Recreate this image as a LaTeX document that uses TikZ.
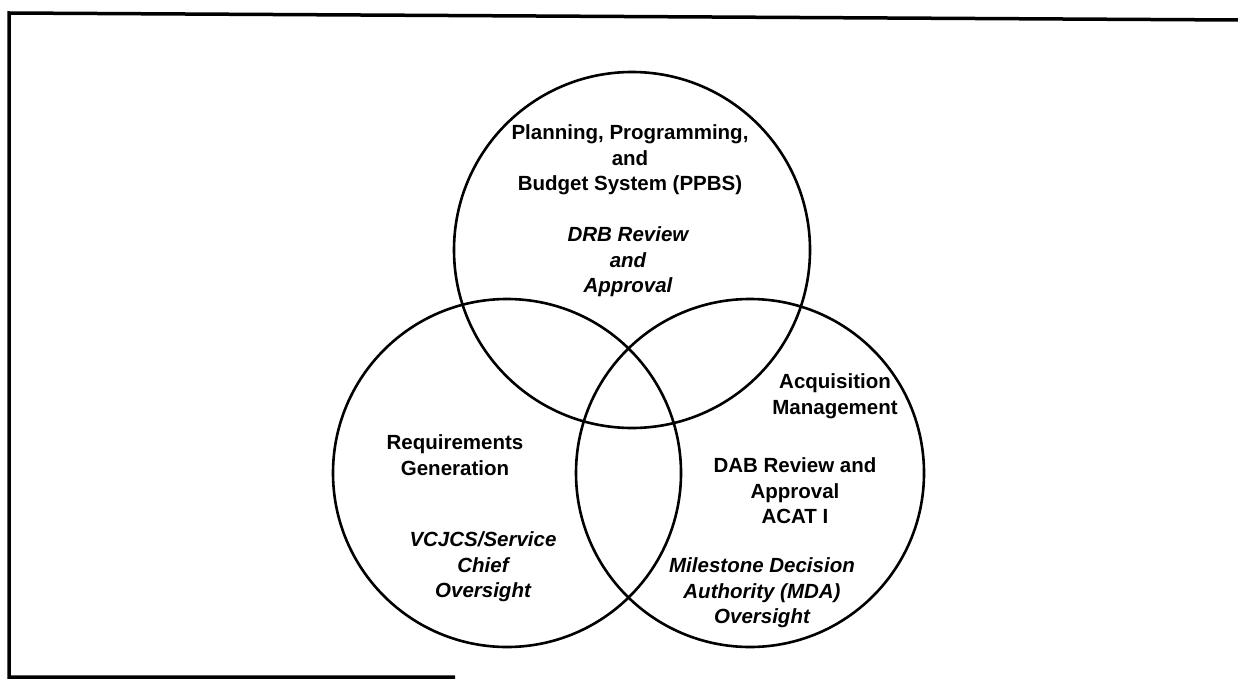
\documentclass[tikz,border=0pt]{standalone}
\usepackage{fontspec}
\setmainfont{Liberation Sans}
\usepackage{tikz}
\usetikzlibrary{positioning}

\tikzset{
    ring/.style={draw, circle, line width=2.6pt, inner sep=0pt},
    label/.style={align=center, inner sep=0pt, font=\fontsize{20.5}{25.5}\selectfont\bfseries},
    note/.style={label, font=\fontsize{20.5}{25.5}\selectfont\bfseries\itshape}
}

\begin{document}
\begin{tikzpicture}[x=1pt, y=-1pt]
    \useasboundingbox (0,0) rectangle (1238,679);

    % Page frame (open at the right)
    \draw[line width=3.5pt] (455,677) -- (9,677) -- (9,13) -- (1238,20);

    % The three circles
    \node[ring, minimum size=356pt] (ppbs) at (632,250) {};
    \node[ring, minimum size=348pt] (req) at (507,473) {};
    \node[ring, minimum size=348pt] (acq) at (750,473) {};

    % Top circle
    \node[label] (ppbsTitle) at (630,160) {Planning, Programming,\\and\\Budget System (PPBS)};
    \node[note] (drb) at (628,262) {DRB Review\\and\\Approval};

    % Left circle
    \node[label] (reqTitle) at (455,455) {Requirements\\Generation};
    \node[note] (vcjcs) at (483,567) {VCJCS/Service\\Chief\\Oversight};

    % Right circle
    \node[label] (acqTitle) at (835,396) {Acquisition\\Management};
    \node[label] (dab) at (795,491) {DAB Review and\\Approval\\ACAT I};
    \node[note] (mda) at (762,593) {Milestone Decision\\Authority (MDA)\\Oversight};
\end{tikzpicture}
\end{document}
